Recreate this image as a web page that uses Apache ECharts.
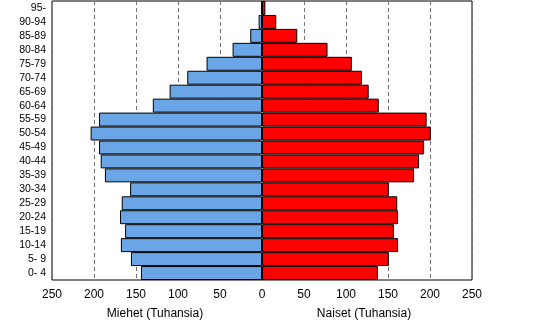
<!DOCTYPE html>
<html>
<head>
<meta charset="utf-8">
<script src="https://cdn.jsdelivr.net/npm/echarts@6/dist/echarts.min.js"></script>
<style>
html,body{margin:0;padding:0;background:#fff;}
#c{width:555px;height:322px;}
</style>
</head>
<body>
<div id="c"></div>
<script>
var ageGroups = ['0- 4','5- 9','10-14','15-19','20-24','25-29','30-34','35-39','40-44','45-49','50-54','55-59','60-64','65-69','70-74','75-79','80-84','85-89','90-94','95-'];
var men   = [144, 156, 168, 163, 169, 167, 157, 187, 192, 194, 204, 194, 130, 110, 89, 66, 35, 14, 4, 1];
var women = [138, 151, 162, 157, 162, 161, 151, 181, 187, 193, 201, 196, 139, 127, 119, 107, 78, 42, 17, 4];
var xTicks = [-250, -200, -150, -100, -50, 0, 50, 100, 150, 200, 250];
var menTitle = 'Miehet (Tuhansia)';
var womenTitle = 'Naiset (Tuhansia)';

var chart = echarts.init(document.getElementById('c'), null, {renderer: 'canvas'});
var font = 'Liberation Sans, Arial, sans-serif';
chart.setOption({
  animation: false,
  backgroundColor: '#fff',
  grid: {left: 52, right: 83, top: 1, bottom: 42, show: true, borderColor: '#000', borderWidth: 1, backgroundColor: 'transparent'},
  xAxis: {
    type: 'value', min: xTicks[0], max: xTicks[xTicks.length - 1], interval: 50,
    axisLine: {show: false},
    axisTick: {show: false},
    axisLabel: {color: '#000', fontFamily: font, fontSize: 12, margin: 9, formatter: function (v) { return String(Math.abs(v)); }},
    splitLine: {show: true, lineStyle: {color: '#707070', type: [4, 3], width: 1}}
  },
  yAxis: {
    type: 'category', data: ageGroups,
    axisLine: {show: false},
    axisTick: {show: false},
    axisLabel: {color: '#000', fontFamily: font, fontSize: 10.5, margin: 6, interval: 0}
  },
  series: [
    {type: 'bar', name: 'Miehet', stack: 'p', barCategoryGap: '0%', data: men.map(function (v) { return -v; }),
     itemStyle: {color: '#6AA6E6', borderColor: '#000', borderWidth: 1}},
    {type: 'bar', name: 'Naiset', stack: 'p', barCategoryGap: '0%', data: women,
     itemStyle: {color: '#FF0000', borderColor: '#000', borderWidth: 1}}
  ],
  graphic: [
    {type: 'text', x: 155, y: 314, style: {text: menTitle, font: '12px ' + font, fill: '#000', align: 'center', verticalAlign: 'middle'}},
    {type: 'text', x: 364, y: 314, style: {text: womenTitle, font: '12px ' + font, fill: '#000', align: 'center', verticalAlign: 'middle'}}
  ]
});
</script>
</body>
</html>
